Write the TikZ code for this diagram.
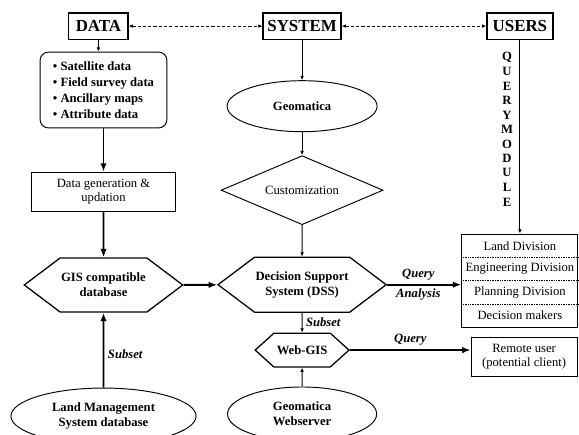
\documentclass[tikz,border=0pt]{standalone}
\usepackage{fontspec}
\setmainfont{Liberation Serif}
\usetikzlibrary{positioning,shapes.geometric,shapes.symbols,arrows.meta}

\tikzset{
  headbox/.style={draw, line width=1.2pt, font=\fontsize{16}{18}\selectfont\bfseries,
    minimum height=0.87cm, inner sep=2pt},
  plainbox/.style={draw, line width=0.9pt, align=center},
  hexnode/.style={draw, line width=1.2pt, shape=signal, signal to=west and east,
    font=\fontsize{12}{14}\selectfont\bfseries, align=center, inner sep=1pt},
  ovalnode/.style={draw, line width=0.9pt, ellipse,
    font=\fontsize{12}{14}\selectfont\bfseries, align=center},
  thinarrow/.style={line width=0.8pt, -{Latex[length=4pt,width=3.5pt]}},
  thickarrow/.style={line width=1.8pt, -{Latex[length=8pt,width=6pt]}},
  dashlink/.style={densely dashed, line width=0.8pt,
    {Latex[length=4pt,width=3.5pt]}-{Latex[length=4pt,width=3.5pt]}},
  linktag/.style={font=\fontsize{12}{14}\selectfont\bfseries\itshape},
}

\begin{document}
\begin{tikzpicture}[font=\fontsize{12}{14}\selectfont]
  \useasboundingbox (0,0) rectangle (19.3,14.47);

  % Cabeceras y enlaces punteados
  \node[headbox, minimum width=1.97cm] (data)   at (3.28,13.6)  {DATA};
  \node[headbox, minimum width=2.6cm]  (system) at (10.07,13.6) {SYSTEM};
  \node[headbox, minimum width=2.2cm]  (users)  at (17.33,13.6) {USERS};
  \draw[dashlink] (data) -- (system);
  \draw[dashlink] (system) -- (users);

  % Columna de datos
  \node[plainbox, rounded corners=8pt, minimum width=4.23cm, minimum height=2.53cm,
    align=left, font=\fontsize{12}{15}\selectfont\bfseries] (inputs) at (3.45,11.47)
    {• Satellite data\\• Field survey data\\• Ancillary maps\\• Attribute data};
  \node[plainbox, minimum width=4.83cm, minimum height=1.3cm] (gen) at (3.45,8.08)
    {Data generation \&\\updation};
  \node[hexnode, minimum width=5.17cm, minimum height=1.8cm, signal pointer angle=74]
    (gis) at (3.45,4.97) {GIS compatible\\database};
  \node[ovalnode, minimum width=6.17cm, minimum height=1.87cm] (lms) at (3.45,0.6)
    {Land Management\\System database};

  \draw[thinarrow] (data.south) -- (data.south |- inputs.north);
  \draw[thickarrow] (inputs) -- (gen);
  \draw[thickarrow] (gen) -- (gis);
  \draw[thickarrow] (lms) -- node[linktag, right, pos=0.45] {Subset} (gis);

  % Columna del sistema
  \node[ovalnode, minimum width=5cm, minimum height=1.7cm] (geo) at (10.07,10.93) {Geomatica};
  \node[draw, diamond, line width=0.9pt, minimum width=5.4cm, minimum height=2.3cm,
    aspect=2.3] (custom) at (10.07,8.13) {Customization};
  \node[hexnode, minimum width=5.37cm, minimum height=1.83cm, signal pointer angle=74]
    (dss) at (10.07,4.98) {Decision Support\\System (DSS)};
  \node[hexnode, minimum width=3.13cm, minimum height=1.13cm, signal pointer angle=84]
    (webgis) at (10.07,2.8) {Web-GIS};
  \node[ovalnode, minimum width=4.97cm, minimum height=1.8cm] (geoweb) at (10.07,0.67)
    {Geomatica\\Webserver};

  \draw[thinarrow] (system) -- (geo);
  \draw[thinarrow] (geo) -- (custom);
  \draw[thinarrow] (custom) -- (dss);
  \draw[thinarrow] (dss) -- node[linktag, right] {Subset} (webgis);
  \draw[thinarrow] (geoweb) -- (webgis);
  \draw[thickarrow] (gis) -- (dss);

  % Columna de usuarios
  \foreach \ch [count=\i] in {Q,U,E,R,Y,M,O,D,U,L,E}
    \node[font=\fontsize{12}{14}\selectfont\bfseries] (qm\i) at (16.9,12.57-0.483*\i+0.483) {\ch};

  \node[plainbox, minimum width=3.87cm, minimum height=3.1cm] (divs) at (17.33,5.12) {};
  \node (land)  at (17.33,6.28) {Land Division};
  \node (engg)  at (17.33,5.50) {Engineering Division};
  \node (plan)  at (17.33,4.73) {Planning Division};
  \node (maker) at (17.33,3.95) {Decision makers};
  \foreach \y in {5.89,5.12,4.34}
    \draw[densely dotted, line width=0.6pt] (divs.west |- 0,\y) -- (divs.east |- 0,\y);

  \node[plainbox, minimum width=3.53cm, minimum height=1.3cm] (remote) at (17.47,2.58)
    {Remote user\\(potential client)};

  \draw[thinarrow] (users) -- (divs);
  \draw[thickarrow] (dss.east) -- node[linktag, above, pos=0.42] {Query}
    node[linktag, below, pos=0.42] {Analysis} (dss.east -| divs.west);
  \draw[thickarrow] (webgis.east) -- node[linktag, above] {Query} (webgis.east -| remote.west);
\end{tikzpicture}
\end{document}
